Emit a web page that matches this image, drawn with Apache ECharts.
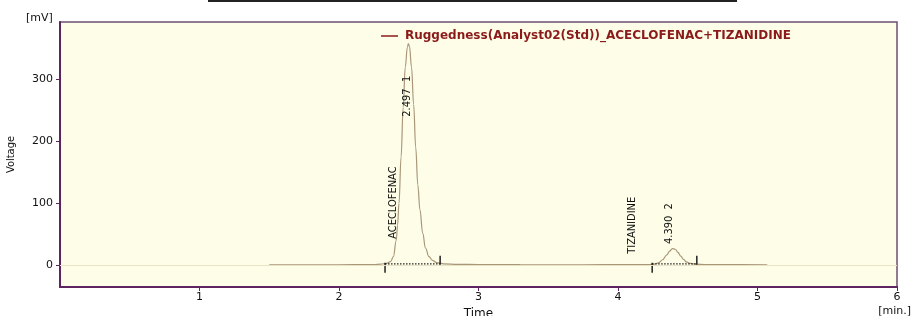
<!DOCTYPE html>
<html>
<head>
<meta charset="utf-8">
<script src="https://cdn.jsdelivr.net/npm/echarts@6/dist/echarts.min.js"></script>
<style>
html, body { margin: 0; padding: 0; background: #fff; }
#main { width: 912px; height: 316px; }
</style>
</head>
<body>
<div id="main"></div>
<script>
const seriesName = 'Ruggedness(Analyst02(Std))_ACECLOFENAC+TIZANIDINE';

// chromatogram, time in min / signal in mV
const timeMin = [1.50, 1.70, 1.90, 2.10, 2.25, 2.30, 2.34, 2.37, 2.39, 2.41, 2.42, 2.43, 2.445, 2.46, 2.475, 2.49,
  2.497, 2.505, 2.52, 2.535, 2.55, 2.565, 2.58, 2.60, 2.62, 2.645, 2.67, 2.70, 2.75, 2.85,
  3.00, 3.30, 3.60, 3.90, 4.10, 4.22, 4.26, 4.29, 4.32, 4.35, 4.37, 4.39, 4.41, 4.43, 4.45, 4.47, 4.49,
  4.52, 4.56, 4.62, 4.80, 5.07];
const signalMv = [0.6, 0.8, 0.7, 1.0, 1.3, 2.0, 3.0, 6, 14, 40, 65, 100, 175, 255, 320, 352,
  358, 354, 320, 260, 190, 130, 90, 52, 28, 14, 8, 4.5, 2.5, 1.6,
  1.2, 1.0, 0.9, 1.0, 1.1, 1.3, 2.0, 4, 9, 17, 23, 27, 26, 21, 15, 9.5, 5.5,
  3.0, 1.8, 1.3, 1.0, 0.9];

// peak table
const peakNames = ['ACECLOFENAC', 'TIZANIDINE'];
const peakNumbers = [1, 2];
const peakRetention = [2.497, 4.390];
const peakHeights = [358, 28];
const integStart = [2.33, 4.245];
const integEnd = [2.725, 4.565];
const integLevel = [2.5, 2.5];

const yTicks = [0, 100, 200, 300];
const xTicks = [1, 2, 3, 4, 5, 6];

const narrow = "'Liberation Sans Narrow', 'DejaVu Sans Condensed', sans-serif";
const wide = "'DejaVu Sans', sans-serif";
const frame = '#5e2460';

// pixel offsets of the rotated peak texts
const rtOffset = [[-1, 73], [-3, -4]];
const nameOffset = [[8, -25], [-20, -10]];

const chart = echarts.init(document.getElementById('main'));

chart.setOption({
  animation: false,
  backgroundColor: '#ffffff',
  grid: {
    left: 60, right: 15, top: 22, bottom: 29,
    outerBoundsMode: 'none',
    containLabel: false,
    show: true, backgroundColor: '#fdfde8',
    borderColor: '#6e4d70', borderWidth: 1.5
  },
  legend: {
    left: 376, top: 25,
    selectedMode: false,
    itemWidth: 17, itemHeight: 1.5, itemGap: 8,
    data: [{ name: seriesName, icon: 'rect' }],
    itemStyle: { color: '#8b1a1a' },
    textStyle: { color: '#8b1a1a', fontWeight: 'bold', fontSize: 12, fontFamily: wide, padding: [0, 0, 0, 2] }
  },
  xAxis: {
    type: 'value', min: 0, max: 6,
    name: 'Time', nameLocation: 'middle', nameGap: 18,
    nameTextStyle: { color: '#111', fontSize: 12, fontFamily: wide },
    axisLine: { onZero: false, lineStyle: { color: frame, width: 2 } },
    axisTick: { customValues: xTicks, length: 4, lineStyle: { color: frame } },
    axisLabel: { customValues: xTicks, color: '#111', fontSize: 11, fontFamily: wide, margin: 5 },
    splitLine: { show: false }
  },
  yAxis: {
    type: 'value', min: -35, max: 393,
    name: 'Voltage', nameLocation: 'middle', nameGap: 43,
    nameTextStyle: { color: '#111', fontSize: 11, fontFamily: narrow },
    axisLine: { show: true, onZero: false, lineStyle: { color: frame, width: 2 } },
    axisTick: { show: true, customValues: yTicks, length: 4, lineStyle: { color: frame } },
    axisLabel: { customValues: yTicks, color: '#111', fontSize: 11, fontFamily: wide, margin: 7 },
    splitLine: { show: false }
  },
  graphic: [
    { type: 'line', shape: { x1: 208, y1: 1, x2: 737, y2: 1 }, style: { stroke: '#222', lineWidth: 2 } },
    { type: 'text', x: 26, y: 18, style: { text: '[mV]', fill: '#111', font: "11px 'DejaVu Sans'", verticalAlign: 'middle' } },
    { type: 'text', x: 911, y: 311, style: { text: '[min.]', fill: '#111', font: "11px 'DejaVu Sans'", align: 'right', verticalAlign: 'middle' } }
  ],
  series: [
    {
      name: seriesName,
      type: 'line',
      data: timeMin.map((t, i) => [t, signalMv[i]]),
      showSymbol: false,
      symbol: 'none',
      smooth: 0.4,
      smoothMonotone: 'x',
      lineStyle: { color: '#a9977a', width: 1.2 },
      itemStyle: { color: '#8b1a1a' },
      markLine: {
        silent: true, symbol: 'none', label: { show: false },
        lineStyle: { color: '#e9e3c6', width: 1, type: 'solid' },
        data: [{ yAxis: 0 }]
      },
      z: 3
    },
    {
      name: 'peaks',
      type: 'custom',
      z: 4,
      silent: true,
      encode: { x: [0, 2, 3], y: 1 },
      data: peakNames.map((n, i) => [peakRetention[i], peakHeights[i], integStart[i], integEnd[i], integLevel[i], i]),
      renderItem(params, api) {
        const i = api.value(5);
        const apex = api.coord([api.value(0), api.value(1)]);
        const a = api.coord([api.value(2), api.value(4)]);
        const b = api.coord([api.value(3), api.value(4)]);
        return {
          type: 'group',
          children: [
            { type: 'line', shape: { x1: a[0], y1: a[1], x2: b[0], y2: b[1] },
              style: { stroke: '#222', lineWidth: 1.2, lineDash: [1.5, 1.5] } },
            { type: 'line', shape: { x1: a[0], y1: a[1] - 1, x2: a[0], y2: a[1] + 9 },
              style: { stroke: '#222', lineWidth: 1.5 } },
            { type: 'line', shape: { x1: b[0], y1: b[1] + 1, x2: b[0], y2: b[1] - 8 },
              style: { stroke: '#222', lineWidth: 1.5 } },
            { type: 'text', x: apex[0] + rtOffset[i][0], y: apex[1] + rtOffset[i][1], rotation: Math.PI / 2,
              style: { text: peakRetention[i].toFixed(3) + '  ' + peakNumbers[i], fill: '#111',
                font: "11px 'Liberation Sans Narrow', 'DejaVu Sans Condensed', sans-serif",
                align: 'left', verticalAlign: 'middle' } },
            { type: 'text', x: a[0] + nameOffset[i][0], y: a[1] + nameOffset[i][1], rotation: Math.PI / 2,
              style: { text: peakNames[i], fill: '#111',
                font: "11px 'Liberation Sans Narrow', 'DejaVu Sans Condensed', sans-serif",
                align: 'left', verticalAlign: 'middle' } }
          ]
        };
      }
    }
  ]
});
</script>
</body>
</html>
